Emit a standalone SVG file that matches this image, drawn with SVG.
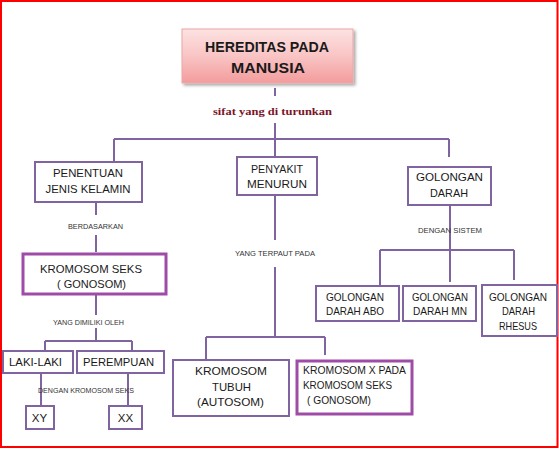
<svg xmlns="http://www.w3.org/2000/svg" width="559" height="449" viewBox="0 0 559 449">
<defs>
<linearGradient id="pink" x1="0" y1="0" x2="0" y2="1">
<stop offset="0" stop-color="#fde2e2"/>
<stop offset="0.5" stop-color="#f9c4c4"/>
<stop offset="1" stop-color="#f39c9c"/>
</linearGradient>
<filter id="sh" x="-10%" y="-10%" width="130%" height="140%">
<feDropShadow dx="2" dy="2" stdDeviation="1.5" flood-color="#000" flood-opacity="0.35"/>
</filter>
</defs>
<style>
.box{fill:#fff;stroke:#8064a2;stroke-width:2}
.thick{fill:#fff;stroke:#9e4ca6;stroke-width:3}
.ln{fill:none;stroke:#8064a2;stroke-width:2}
text{font-family:"Liberation Sans",Arial,sans-serif;fill:#1a1a1a}
.t{font-size:11.5px;text-anchor:middle}
.tl{font-size:11px}
.s{font-size:7.5px;text-anchor:middle;fill:#333}
.h{font-size:15px;font-weight:bold;text-anchor:middle}
.sf{font-family:"Liberation Serif","Times New Roman",serif;font-size:10.5px;font-weight:bold;fill:#7a1428;text-anchor:middle}
</style>
<rect x="0" y="0" width="559" height="449" fill="#fff"/>
<rect x="1" y="1" width="556.5" height="446" fill="none" stroke="#ff0000" stroke-width="2"/>

<g id="connectors">
<path class="ln" d="M275 88V96M275 123V139M114 139H449M114 139V162M275 139V157M449 139V157"/>
<path class="ln" d="M96 202V215M96 235V252M96 294V315M96 328V341M45 341H132M45 341V351M132 341V351M41 373V406M128 373V406"/>
<path class="ln" d="M275 195V240M275 267V337M206 337H325M206 337V359M325 337V355"/>
<path class="ln" d="M450 205V250M380 250H514M380 250V286M450 250V282M514 250V280"/>
</g>

<g id="title">
<rect x="182" y="29" width="171" height="54" fill="url(#pink)" stroke="#e8a8a8" stroke-width="1" filter="url(#sh)"/>
<text class="h" x="267" y="52" textLength="124" lengthAdjust="spacingAndGlyphs">HEREDITAS PADA</text>
<text class="h" x="268" y="73" textLength="74" lengthAdjust="spacingAndGlyphs">MANUSIA</text>
</g>
<g id="label-sifat"><text class="sf" x="272.5" y="115" textLength="119" lengthAdjust="spacingAndGlyphs">sifat yang di turunkan</text></g>

<g id="penentuan">
<rect class="box" x="35" y="162" width="107" height="40"/>
<text class="t" x="88" y="177" textLength="70" lengthAdjust="spacingAndGlyphs">PENENTUAN</text>
<text class="t" x="88" y="193" textLength="85" lengthAdjust="spacingAndGlyphs">JENIS KELAMIN</text>
</g>
<g id="label-berdasarkan"><text class="s" x="95.5" y="229" textLength="55" lengthAdjust="spacingAndGlyphs">BERDASARKAN</text></g>

<g id="kromosom-seks">
<rect class="thick" x="23" y="254" width="143" height="40"/>
<text class="tl" x="40" y="273" textLength="102" lengthAdjust="spacingAndGlyphs">KROMOSOM SEKS</text>
<text class="tl" x="57" y="288" textLength="69" lengthAdjust="spacingAndGlyphs">( GONOSOM)</text>
</g>
<g id="label-dimiliki"><text class="s" x="88.5" y="325" textLength="71" lengthAdjust="spacingAndGlyphs">YANG DIMILIKI OLEH</text></g>

<g id="laki">
<rect class="box" x="3" y="351" width="70" height="22"/>
<text class="t" x="35.5" y="366" textLength="53" lengthAdjust="spacingAndGlyphs">LAKI-LAKI</text>
</g>
<g id="perempuan">
<rect class="box" x="77" y="351" width="87" height="22"/>
<text class="t" x="118.5" y="366" textLength="71" lengthAdjust="spacingAndGlyphs">PEREMPUAN</text>
</g>
<g id="label-dengan-kromosom"><text class="s" x="86" y="393" textLength="96" lengthAdjust="spacingAndGlyphs">DENGAN KROMOSOM SEKS</text></g>

<g id="xy">
<rect class="box" x="26" y="406" width="28" height="23"/>
<text class="t" x="39.5" y="422">XY</text>
</g>
<g id="xx">
<rect class="box" x="109" y="406" width="33" height="23"/>
<text class="t" x="125.5" y="422">XX</text>
</g>

<g id="penyakit">
<rect class="box" x="237" y="157" width="80" height="38"/>
<text class="t" x="277" y="173" textLength="52" lengthAdjust="spacingAndGlyphs">PENYAKIT</text>
<text class="t" x="277" y="188" textLength="60" lengthAdjust="spacingAndGlyphs">MENURUN</text>
</g>
<g id="label-terpaut"><text class="s" x="275" y="256" textLength="80" lengthAdjust="spacingAndGlyphs">YANG TERPAUT PADA</text></g>

<g id="kromosom-tubuh">
<rect class="box" x="173" y="360" width="116" height="56"/>
<text class="t" x="231" y="375" textLength="72" lengthAdjust="spacingAndGlyphs">KROMOSOM</text>
<text class="t" x="231.5" y="391" textLength="39" lengthAdjust="spacingAndGlyphs">TUBUH</text>
<text class="t" x="230.5" y="406" textLength="67" lengthAdjust="spacingAndGlyphs">(AUTOSOM)</text>
</g>
<g id="kromosom-x">
<rect class="thick" x="297" y="361" width="115" height="53"/>
<text class="tl" x="303" y="374" textLength="103" lengthAdjust="spacingAndGlyphs">KROMOSOM X PADA</text>
<text class="tl" x="303" y="389" textLength="89" lengthAdjust="spacingAndGlyphs">KROMOSOM SEKS</text>
<text class="tl" x="307" y="404" textLength="64" lengthAdjust="spacingAndGlyphs">( GONOSOM)</text>
</g>

<g id="golongan-darah">
<rect class="box" x="408" y="167" width="83" height="38"/>
<text class="t" x="449.5" y="181" textLength="67" lengthAdjust="spacingAndGlyphs">GOLONGAN</text>
<text class="t" x="449" y="197" textLength="38" lengthAdjust="spacingAndGlyphs">DARAH</text>
</g>
<g id="label-sistem"><text class="s" x="450" y="233" textLength="64" lengthAdjust="spacingAndGlyphs">DENGAN SISTEM</text></g>

<g id="abo">
<rect class="box" x="316" y="286" width="83" height="35"/>
<text class="t" x="355" y="301" textLength="58" lengthAdjust="spacingAndGlyphs">GOLONGAN</text>
<text class="t" x="355" y="315" textLength="58" lengthAdjust="spacingAndGlyphs">DARAH ABO</text>
</g>
<g id="mn">
<rect class="box" x="403" y="286" width="73" height="35"/>
<text class="t" x="440" y="301" textLength="56" lengthAdjust="spacingAndGlyphs">GOLONGAN</text>
<text class="t" x="440" y="315" textLength="54" lengthAdjust="spacingAndGlyphs">DARAH MN</text>
</g>
<g id="rhesus">
<rect class="box" x="482" y="285" width="75" height="51"/>
<text class="t" x="518" y="301" textLength="58" lengthAdjust="spacingAndGlyphs">GOLONGAN</text>
<text class="t" x="518.5" y="315" textLength="33" lengthAdjust="spacingAndGlyphs">DARAH</text>
<text class="t" x="518" y="330" textLength="38" lengthAdjust="spacingAndGlyphs">RHESUS</text>
</g>
</svg>
